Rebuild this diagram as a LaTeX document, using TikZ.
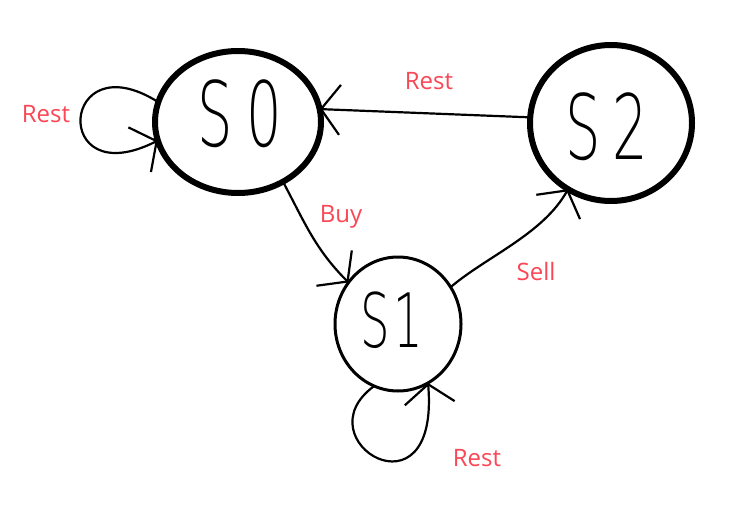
\documentclass[tikz,border=0pt]{standalone}
\usepackage{fontspec}
\setmainfont{Open Sans}
\newfontfamily\handfont{DejaVu Sans ExtraLight}
\usetikzlibrary{arrows.meta,shapes.geometric}
\definecolor{lblred}{RGB}{250,70,85}
\tikzset{
  statebig/.style={draw=black,ellipse,line width=6pt,inner sep=0pt,outer sep=0pt},
  statesmall/.style={draw=black,ellipse,line width=3pt,inner sep=0pt,outer sep=0pt},
  handtxt/.style={font=\handfont\fontsize{90}{90}\selectfont,inner sep=0pt,xscale=0.62},
  lbl/.style={text=lblred,font=\fontsize{24}{24}\selectfont,anchor=base,inner sep=0pt},
  edge/.style={draw=black,line width=2.2pt,line cap=round,line join=round,
    -{Straight Barb[length=19pt,width=50pt,line width=2.2pt]}}
}
\begin{document}
\begin{tikzpicture}[x=1pt,y=-1pt]
\useasboundingbox (0,0) rectangle (738,508);
\fill[white] (0,0) rectangle (738,508);
% states
\node[statebig,minimum width=166pt,minimum height=142pt] (s0) at (238,122) {};
\node[statebig,minimum width=162pt,minimum height=156pt] (s2) at (611,123) {};
\node[statesmall,minimum width=126pt,minimum height=134pt] (s1) at (398,324) {};
% hand written names
\node[handtxt] (t0) at (240,114) {S\kern22pt 0};
\node[handtxt,font=\handfont\fontsize{75}{75}\selectfont] (t1) at (392,320) {S\kern6pt 1};
\node[handtxt] (t2) at (607,127) {S\kern18pt 2};
% connectors
\draw[edge] (s2.176) -- (s0.9);
\draw[edge] (s0.-53) to[out=-62,in=135] (s1.140);
\draw[edge] (s1.35) .. controls +(35,-30) and +(-25,45) .. (s2.237);
\draw[edge] (s0.166) .. controls (60,40) and (50,195) .. (s0.193);
\draw[edge] (s1.-111) .. controls (300,440) and (440,525) .. (s1.-63);
% labels
\node[lbl] (l0) at (46,122) {Rest};
\node[lbl] (l1) at (429,90) {Rest};
\node[lbl] (l2) at (341,222) {Buy};
\node[lbl] (l3) at (536,280) {Sell};
\node[lbl] (l4) at (477,466) {Rest};
\end{tikzpicture}
\end{document}
